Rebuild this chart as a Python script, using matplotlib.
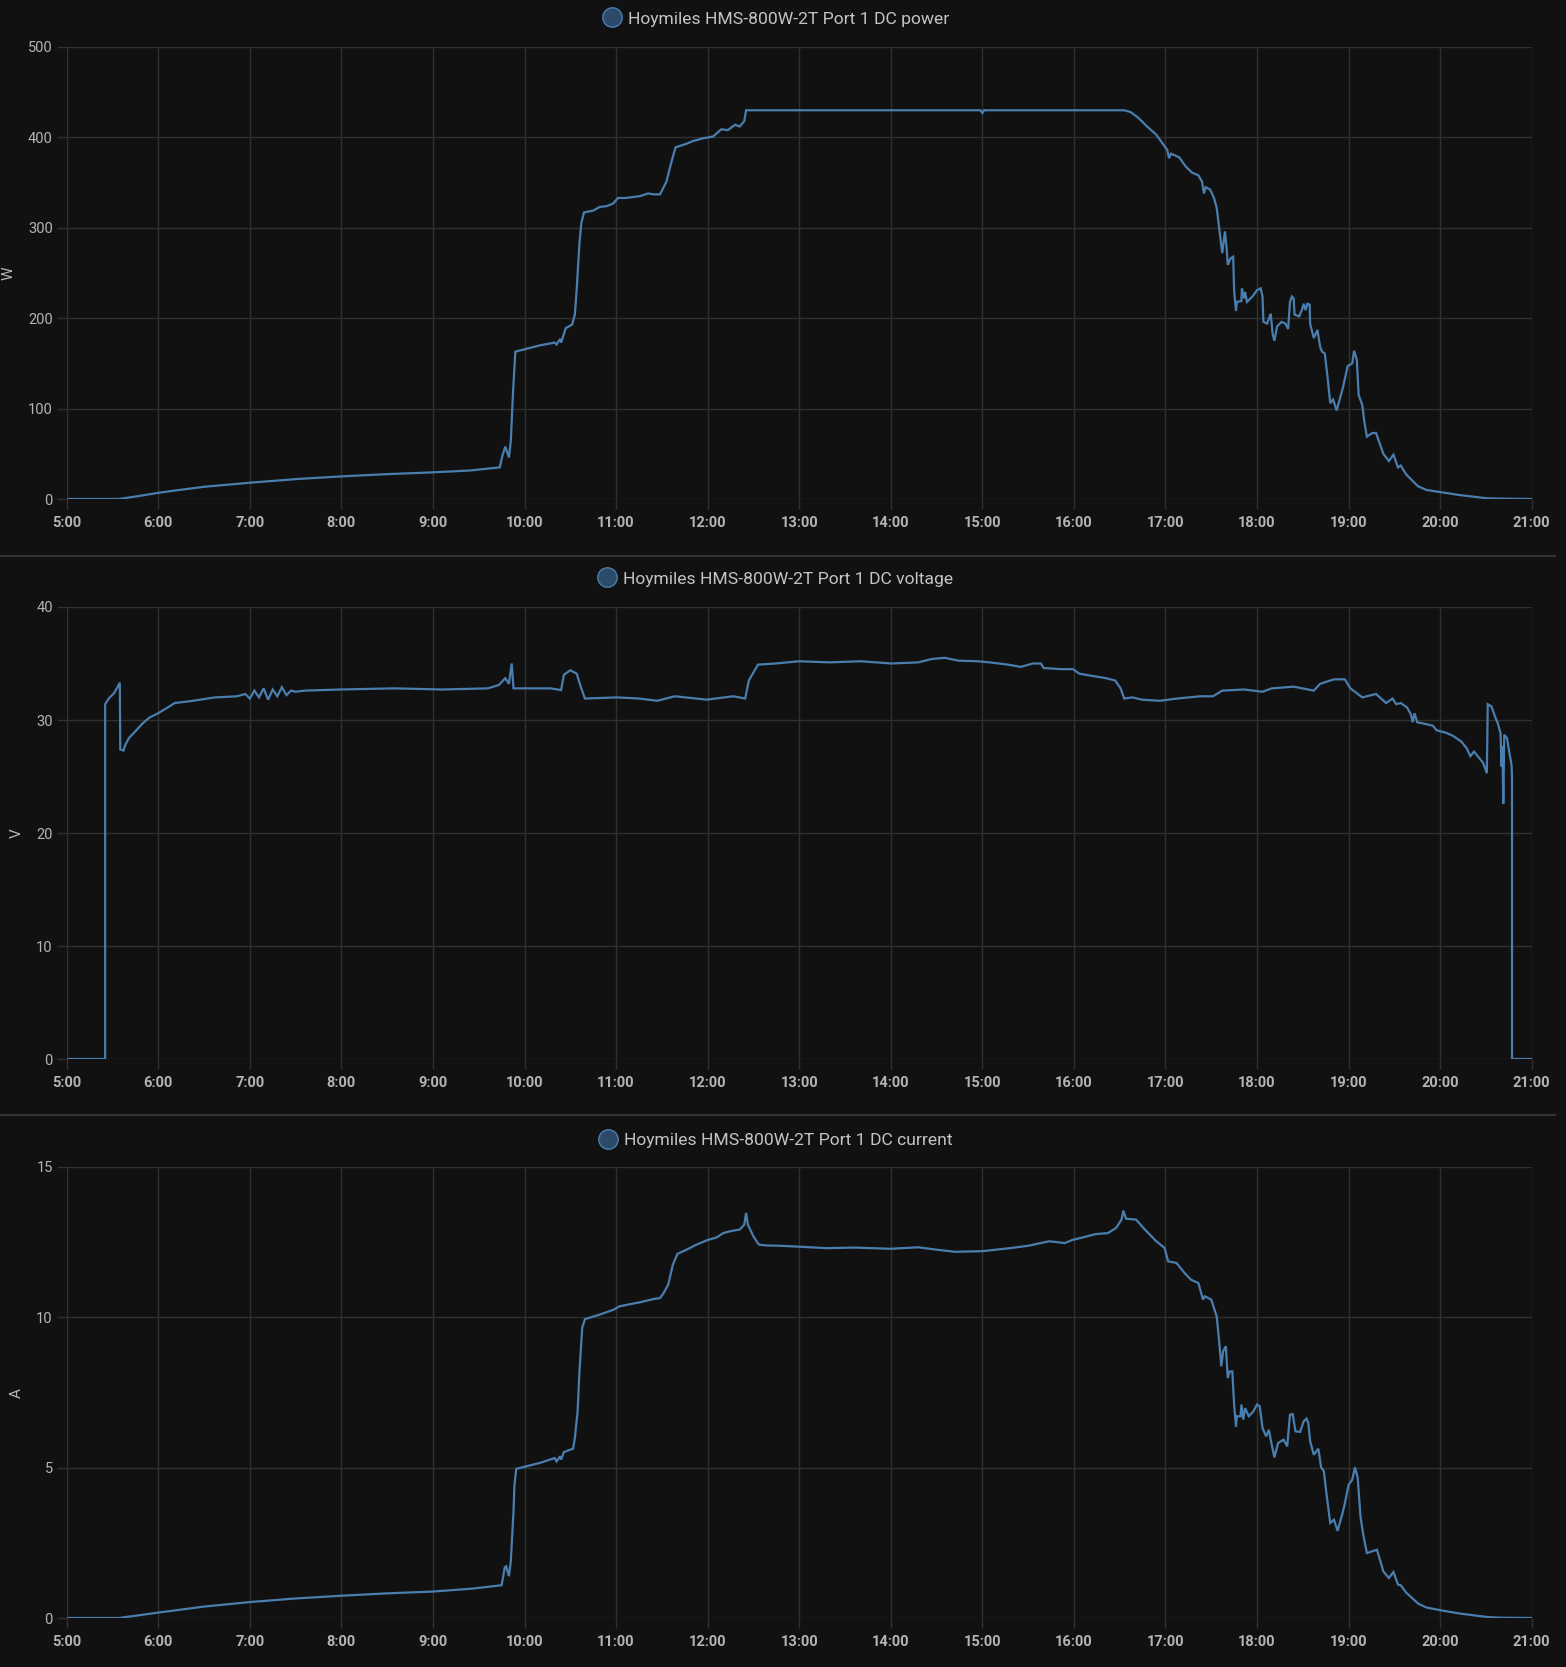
import matplotlib
matplotlib.use("Agg")
from matplotlib import pyplot as plt
from matplotlib.lines import Line2D

# (hour of day, value)
power = [(5.0, 0), (5.57, 0), (5.8, 3.5), (6.0, 6.8), (6.2, 9.6), (6.5, 13.5), (7.0, 18), (7.5, 22),
         (8.0, 25), (8.5, 27.5), (9.0, 29.5), (9.4, 31.5), (9.73, 35), (9.756, 47), (9.79, 58),
         (9.83, 46), (9.85, 64), (9.876, 121), (9.90, 163), (10.17, 170), (10.33, 173), (10.35, 171),
         (10.39, 177), (10.40, 173), (10.45, 189), (10.52, 193), (10.55, 204), (10.57, 232),
         (10.60, 283), (10.62, 305), (10.65, 317), (10.75, 319), (10.82, 323), (10.90, 324),
         (10.97, 327), (11.02, 333), (11.11, 333), (11.26, 335), (11.35, 338), (11.41, 337),
         (11.48, 337), (11.55, 351), (11.61, 375), (11.65, 389), (11.77, 393), (11.84, 396),
         (11.95, 399), (12.06, 401), (12.15, 409), (12.22, 408), (12.30, 414), (12.35, 412),
         (12.40, 418), (12.42, 430), (14.98, 430), (15.0, 427), (15.02, 430), (16.55, 430),
         (16.62, 428), (16.7, 422), (16.8, 412), (16.9, 403), (17.02, 386), (17.04, 377),
         (17.06, 382), (17.15, 378), (17.22, 368), (17.29, 361), (17.36, 358), (17.40, 351),
         (17.42, 338), (17.44, 345), (17.49, 342), (17.53, 333), (17.56, 322), (17.58, 305),
         (17.60, 287), (17.62, 272), (17.64, 288), (17.65, 296), (17.67, 275), (17.68, 259),
         (17.71, 266), (17.74, 268), (17.75, 231), (17.77, 208), (17.78, 218), (17.83, 219),
         (17.835, 233), (17.86, 222), (17.87, 229), (17.89, 218), (17.95, 224), (18.00, 231),
         (18.04, 233), (18.06, 224), (18.07, 196), (18.11, 194), (18.15, 205), (18.17, 183),
         (18.19, 175), (18.22, 191), (18.27, 196), (18.31, 194), (18.34, 188), (18.36, 218),
         (18.38, 224), (18.40, 222), (18.41, 204), (18.46, 202), (18.49, 209), (18.51, 216),
         (18.53, 209), (18.55, 216), (18.575, 215), (18.58, 194), (18.62, 178), (18.66, 187),
         (18.69, 168), (18.71, 163), (18.74, 161), (18.77, 135), (18.80, 106), (18.83, 110),
         (18.87, 98), (18.91, 113), (18.94, 124), (18.99, 147), (19.04, 150), (19.06, 164),
         (19.09, 154), (19.11, 115), (19.15, 104), (19.17, 87), (19.20, 69), (19.26, 73),
         (19.30, 73), (19.38, 50), (19.44, 42), (19.49, 49), (19.54, 35), (19.57, 37),
         (19.63, 27), (19.76, 14), (19.85, 10), (20.0, 7.7), (20.21, 4.4), (20.52, 0.7),
         (20.65, 0.4), (21.0, 0)]

voltage = [(5.0, 0), (5.42, 0), (5.42, 31.4), (5.46, 31.9), (5.52, 32.4), (5.58, 33.3), (5.585, 27.4),
           (5.62, 27.3), (5.64, 27.8), (5.68, 28.4), (5.75, 29.0), (5.83, 29.7), (5.90, 30.2),
           (6.0, 30.6), (6.08, 31.0), (6.18, 31.5), (6.38, 31.7), (6.62, 32.0), (6.86, 32.1),
           (6.95, 32.3), (7.0, 31.9), (7.05, 32.6), (7.1, 32.0), (7.15, 32.8), (7.2, 31.8),
           (7.25, 32.7), (7.3, 32.1), (7.35, 32.9), (7.4, 32.2), (7.45, 32.6), (7.5, 32.5),
           (7.6, 32.6), (7.99, 32.7), (8.57, 32.8), (9.1, 32.7), (9.6, 32.8), (9.72, 33.1),
           (9.79, 33.7), (9.83, 33.2), (9.86, 35.0), (9.88, 32.8), (10.28, 32.8), (10.4, 32.65),
           (10.43, 34.0), (10.50, 34.4), (10.57, 34.1), (10.62, 32.8), (10.66, 31.9), (11.01, 32.0),
           (11.25, 31.9), (11.45, 31.7), (11.64, 32.1), (11.99, 31.8), (12.28, 32.1), (12.41, 31.9),
           (12.45, 33.5), (12.55, 34.9), (12.74, 35.0), (13.0, 35.2), (13.33, 35.1), (13.67, 35.2),
           (14.01, 35.0), (14.30, 35.1), (14.45, 35.4), (14.59, 35.5), (14.74, 35.25), (14.94, 35.2),
           (15.08, 35.1), (15.28, 34.9), (15.42, 34.7), (15.55, 35.0), (15.64, 35.0), (15.67, 34.6),
           (15.86, 34.5), (15.99, 34.5), (16.06, 34.1), (16.20, 33.9), (16.35, 33.7), (16.45, 33.5),
           (16.51, 32.8), (16.55, 31.9), (16.64, 32.0), (16.74, 31.8), (16.94, 31.7), (17.13, 31.9),
           (17.38, 32.1), (17.52, 32.1), (17.62, 32.6), (17.86, 32.7), (18.06, 32.5), (18.16, 32.8),
           (18.40, 32.95), (18.62, 32.6), (18.69, 33.2), (18.84, 33.6), (18.96, 33.6), (19.02, 32.8),
           (19.15, 32.0), (19.30, 32.3), (19.41, 31.5), (19.48, 31.9), (19.52, 31.4), (19.57, 31.5),
           (19.64, 31.1), (19.68, 30.5), (19.70, 29.8), (19.72, 30.6), (19.75, 29.8), (19.81, 29.7),
           (19.92, 29.5), (19.96, 29.1), (20.07, 28.85), (20.14, 28.6), (20.23, 28.1), (20.29, 27.5),
           (20.33, 26.8), (20.37, 27.2), (20.41, 26.8), (20.47, 26.2), (20.51, 25.3), (20.52, 31.4),
           (20.56, 31.2), (20.60, 30.3), (20.63, 29.7), (20.66, 28.8), (20.67, 25.9), (20.68, 27.7),
           (20.69, 22.6), (20.70, 28.7), (20.73, 28.4), (20.75, 27.4), (20.78, 26.0), (20.785, 24.9),
           (20.785, 0), (21.0, 0)]

current = [(5.0, 0), (5.57, 0), (6.0, 0.18), (6.5, 0.38), (7.0, 0.53), (7.5, 0.65), (8.0, 0.74),
           (8.5, 0.82), (9.0, 0.88), (9.44, 0.98), (9.75, 1.09), (9.785, 1.69), (9.80, 1.72),
           (9.83, 1.39), (9.85, 1.88), (9.88, 3.55), (9.89, 4.43), (9.91, 4.96), (10.17, 5.16),
           (10.33, 5.32), (10.35, 5.21), (10.39, 5.38), (10.40, 5.27), (10.43, 5.52), (10.53, 5.63),
           (10.55, 5.99), (10.58, 6.87), (10.60, 8.20), (10.63, 9.65), (10.66, 9.94), (10.82, 10.09),
           (10.97, 10.25), (11.04, 10.37), (11.26, 10.50), (11.41, 10.61), (11.48, 10.64),
           (11.52, 10.81), (11.57, 11.09), (11.62, 11.75), (11.67, 12.11), (11.77, 12.25),
           (11.88, 12.42), (11.99, 12.56), (12.10, 12.66), (12.17, 12.80), (12.24, 12.86),
           (12.35, 12.92), (12.40, 13.08), (12.42, 13.47), (12.44, 13.08), (12.50, 12.69),
           (12.56, 12.42), (12.64, 12.39), (12.79, 12.38), (13.0, 12.35), (13.3, 12.3),
           (13.6, 12.32), (14.0, 12.28), (14.3, 12.33), (14.5, 12.25), (14.7, 12.18), (15.0, 12.2),
           (15.3, 12.3), (15.5, 12.38), (15.73, 12.53), (15.90, 12.47), (15.99, 12.58),
           (16.10, 12.66), (16.24, 12.77), (16.37, 12.80), (16.46, 12.97), (16.52, 13.25),
           (16.54, 13.55), (16.57, 13.28), (16.68, 13.25), (16.76, 12.97), (16.83, 12.75),
           (16.90, 12.53), (16.99, 12.31), (17.03, 11.86), (17.12, 11.81), (17.21, 11.47),
           (17.28, 11.25), (17.36, 11.14), (17.41, 10.59), (17.43, 10.70), (17.50, 10.59),
           (17.56, 10.03), (17.59, 9.09), (17.61, 8.37), (17.63, 8.87), (17.66, 9.04), (17.68, 7.98),
           (17.70, 8.20), (17.73, 8.20), (17.75, 7.10), (17.77, 6.37), (17.78, 6.71), (17.82, 6.71),
           (17.83, 7.10), (17.85, 6.60), (17.87, 6.98), (17.91, 6.71), (17.96, 6.87), (18.00, 7.10),
           (18.03, 7.04), (18.06, 6.32), (18.10, 6.04), (18.13, 6.26), (18.15, 5.93), (18.19, 5.34),
           (18.23, 5.82), (18.29, 5.93), (18.33, 5.71), (18.36, 6.76), (18.39, 6.78), (18.42, 6.21),
           (18.47, 6.19), (18.51, 6.54), (18.54, 6.63), (18.56, 6.49), (18.58, 5.88), (18.62, 5.43),
           (18.67, 5.63), (18.70, 5.01), (18.73, 4.88), (18.76, 4.10), (18.80, 3.16), (18.84, 3.27),
           (18.88, 2.90), (18.93, 3.44), (18.96, 3.82), (19.00, 4.43), (19.04, 4.60), (19.07, 5.01),
           (19.10, 4.66), (19.13, 3.38), (19.16, 2.77), (19.20, 2.16), (19.26, 2.22), (19.31, 2.27),
           (19.38, 1.55), (19.44, 1.33), (19.49, 1.53), (19.54, 1.11), (19.57, 1.09), (19.63, 0.84),
           (19.76, 0.48), (19.85, 0.35), (20.0, 0.26), (20.21, 0.15), (20.52, 0.03), (20.65, 0.01),
           (21.0, 0)]

hour_ticks = list(range(5, 22))
hour_labels = [f"{h}:00" for h in hour_ticks]

panels = [
    ("Hoymiles HMS-800W-2T Port 1 DC power", "W", power, [0, 100, 200, 300, 400, 500]),
    ("Hoymiles HMS-800W-2T Port 1 DC voltage", "V", voltage, [0, 10, 20, 30, 40]),
    ("Hoymiles HMS-800W-2T Port 1 DC current", "A", current, [0, 5, 10, 15]),
]

BG = "#111111"
GRID = "#303030"
LINE = "#4a7eae"
TEXT = "#b4b4b4"

W, H = 1566, 1667
fig = plt.figure(figsize=(W / 100, H / 100), dpi=100, facecolor=BG)
plt.rcParams["font.family"] = ["Roboto", "DejaVu Sans"]

# pixel layout: (axes top, axes bottom, title y)
layout = [(47, 499, 19), (607, 1059, 579), (1167, 1618, 1140)]
left, right = 66.7, 1531.7

for (title, unit, series, yticks), (top, bottom, ty) in zip(panels, layout):
    ax = fig.add_axes([left / W, 1 - bottom / H, (right - left) / W, (bottom - top) / H])
    ax.set_facecolor(BG)
    t, v = zip(*series)
    ax.plot(t, v, color=LINE, lw=1.6, solid_joinstyle="miter")
    ax.set_xlim(5, 21)
    ax.set_ylim(yticks[0], yticks[-1])
    ax.set_xticks(hour_ticks)
    ax.set_xticklabels(hour_labels, fontsize=10.5, fontweight="bold", color=TEXT)
    ax.set_yticks(yticks)
    ax.set_yticklabels([str(y) for y in yticks], fontsize=10.5, color=TEXT)
    ax.tick_params(axis="both", length=7, width=1, color=GRID, pad=3)
    ax.tick_params(axis="x", pad=5)
    ax.grid(True, color=GRID, lw=1)
    for s in ax.spines.values():
        s.set_visible(False)
    ax.set_ylabel(unit, color=TEXT, fontsize=11, labelpad=9)

    handle = Line2D([], [], marker="o", ls="", markersize=14, mfc="#2c4a6a", mec="#4a7eae", mew=1)
    fig.legend([handle], [title], loc="center", bbox_to_anchor=(776 / W, 1 - ty / H),
               frameon=False, fontsize=12.6, labelcolor="#c4c4c4", handlelength=1.0,
               handletextpad=0.4, borderpad=0, borderaxespad=0)

# separators between panels
for y in (556, 1115):
    fig.add_artist(Line2D([0, 1555 / W], [1 - y / H, 1 - y / H], color="#333333", lw=1.5))

plt.savefig("out.png", dpi=100, facecolor=BG)
